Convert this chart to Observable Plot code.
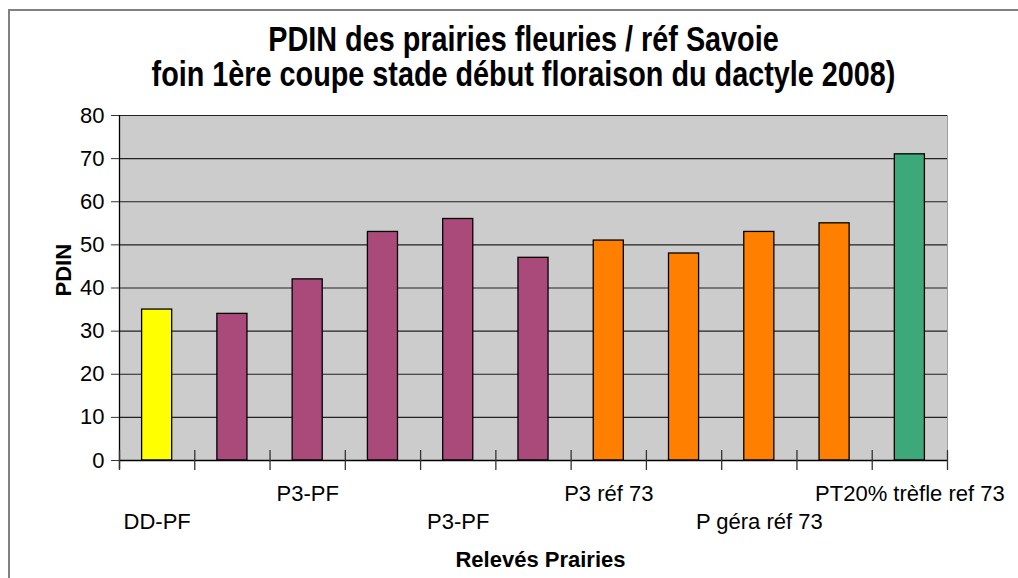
<!DOCTYPE html>
<html><head><meta charset="utf-8">
<script src="https://cdn.jsdelivr.net/npm/d3@7"></script>
<script src="https://cdn.jsdelivr.net/npm/@observablehq/plot@0.6"></script>
<style>
body{margin:0;background:#fff;}
#wrap{position:relative;width:1018px;height:578px;overflow:hidden;font-family:"Liberation Sans",Arial,sans-serif;}
#border{position:absolute;left:8px;top:9px;width:2000px;height:2000px;border-left:2px solid #808080;border-top:2px solid #808080;}
#chart{position:absolute;left:0;top:0;}
</style></head>
<body><div id="wrap"><div id="border"></div><div id="chart"></div></div>
<script>
// Data
const values = [35, 34, 42, 53, 56, 47, 51, 48, 53, 55, 71];
const groups = ["DD", "PF", "PF", "PF", "PF", "PF", "73", "73", "73", "73", "PT"];
const groupNames = ["DD", "PF", "73", "PT"];
const groupColors = ["#FFFF00", "#A94A7A", "#FF8000", "#3DA87A"];
const tickLabels = ["DD-PF", "", "P3-PF", "", "P3-PF", "", "P3 réf 73", "", "P géra réf 73", "", "PT20% trèfle ref 73"];
const yTicks = [0, 10, 20, 30, 40, 50, 60, 70, 80];
const titleText = "PDIN des prairies fleuries / réf Savoie\nfoin 1ère coupe stade début floraison du dactyle 2008)";
const xTitle = "Relevés Prairies";
const yTitle = "PDIN";

const data = values.map((v, i) => ({i, v, g: groups[i]}));
const bounds = d3.range(values.length + 1);
const upper = d3.range(values.length).filter(i => i % 4 === 2).map(i => i + 0.5);
const lower = d3.range(values.length).filter(i => i % 4 === 0).map(i => i + 0.5);
const lab = d => tickLabels[Math.round(d - 0.5)];
const font = "Liberation Sans, Arial, sans-serif";

const chart = Plot.plot({
  width: 1018, height: 578,
  marginLeft: 119, marginRight: 71, marginTop: 115, marginBottom: 118,
  style: {fontFamily: font, fontSize: "22px", color: "#000", background: "transparent", overflow: "visible"},
  x: {domain: [0, values.length], axis: null, label: null},
  y: {domain: [0, 80], axis: null, label: null},
  color: {domain: groupNames, range: groupColors},
  marks: [
    Plot.frame({fill: "#cccccc", stroke: "#a0a0a0"}),
    Plot.ruleY(yTicks, {stroke: "#222", strokeWidth: 1.2}),
    Plot.rectY(data, {x1: "i", x2: d => d.i + 1, y1: 0, y2: "v", fill: "g", stroke: "#000", strokeWidth: 1.3, insetLeft: 22.6, insetRight: 22.6}),
    Plot.ruleX([0], {stroke: "#000", strokeWidth: 1.3, insetBottom: -9}),
    Plot.ruleY([0], {stroke: "#000", strokeWidth: 1.3}),
    Plot.ruleX(bounds, {y1: 0, y2: 0, insetTop: -10, insetBottom: -10, stroke: "#333", strokeWidth: 1.3}),
    Plot.axisY({ticks: yTicks, tickSize: 8, tickPadding: 7, fontSize: 22, stroke: "#333", label: null}),
    Plot.axisX({ticks: upper, tickSize: 0, tickPadding: 25, tickFormat: lab, fontSize: 22, label: null}),
    Plot.axisX({ticks: lower, tickSize: 0, tickPadding: 53, tickFormat: lab, fontSize: 22, label: null}),
    Plot.text([titleText], {frameAnchor: "top", lineAnchor: "middle", lineHeight: 1.02, dx: -10, dy: -58.5, fontSize: 28.8, fontWeight: "bold"}),
    Plot.text([xTitle], {frameAnchor: "bottom", lineAnchor: "top", dx: 7, dy: 91, fontSize: 22, fontWeight: "bold", letterSpacing: "0.9px"}),
    Plot.text([yTitle], {frameAnchor: "left", rotate: -90, dx: -56, dy: 8.5, fontSize: 22, fontWeight: "bold"})
  ]
});
// stretch the title vertically like the reference's tall bold face
d3.select(chart).selectAll("text")
  .filter(function() { return this.textContent.startsWith("PDIN des"); })
  .each(function() {
    const t = this.getAttribute("transform") || "";
    this.setAttribute("transform", (t + " scale(1,1.2)").trim());
  });
document.getElementById("chart").appendChild(chart);
</script>
</body></html>
